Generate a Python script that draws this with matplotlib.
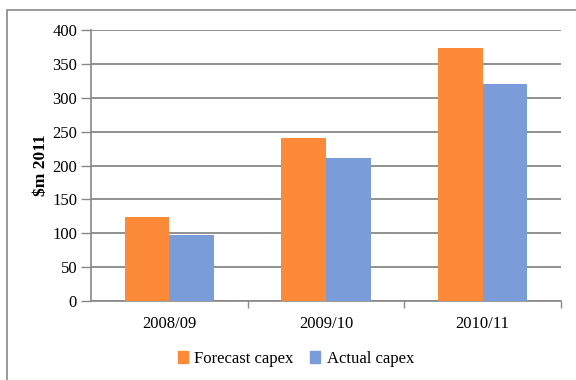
import matplotlib
matplotlib.use("Agg")
import matplotlib.pyplot as plt
import numpy as np
from matplotlib.patches import Rectangle, Patch

categories = ["2008/09", "2009/10", "2010/11"]
forecast = [124, 240, 373]
actual = [97, 211, 321]
yticks = [0, 50, 100, 150, 200, 250, 300, 350, 400]

plt.rcParams['font.family'] = ['Liberation Serif', 'DejaVu Serif']

fig = plt.figure(figsize=(5.76, 3.80), dpi=100)
ax = fig.add_axes([91/576, 1-301/380, (561-91)/576, (301-30)/380])

c_or = '#FD8A38'
c_bl = '#7A9CD9'
grid_c = '#888888'

x = np.arange(len(categories))
w = 0.285
ax.bar(x - w/2, forecast, w, color=c_or, zorder=3)
ax.bar(x + w/2, actual, w, color=c_bl, zorder=3)

ax.set_xlim(-0.5, 2.5)
ax.set_ylim(0, 400)
ax.set_yticks(yticks)
ax.set_yticklabels([str(v) for v in yticks], fontsize=12)
ax.yaxis.grid(True, color=grid_c, linewidth=1.3, zorder=0)
ax.set_axisbelow(True)

ax.set_xticks(x)
ax.set_xticklabels(categories, fontsize=12)
ax.tick_params(axis='x', length=0, pad=11)
ax.set_xticks([0.5, 1.5, 2.5], minor=True)
ax.tick_params(axis='x', which='minor', length=5, color=grid_c, width=1)
ax.tick_params(axis='y', length=7, color=grid_c, width=1, pad=3)

for s in ['top', 'right']:
    ax.spines[s].set_visible(False)
for s in ['left', 'bottom']:
    ax.spines[s].set_color(grid_c)
    ax.spines[s].set_linewidth(1.2)

ax.set_ylabel("$m 2011", fontsize=12.5, fontweight='bold')
ax.yaxis.set_label_coords(-0.09, 0.5)

handles = [Patch(color=c_or, label="Forecast capex"), Patch(color=c_bl, label="Actual capex")]
fig.legend(handles=handles, loc='center', bbox_to_anchor=(296/576, 1-359/380), ncol=2,
           frameon=False, fontsize=12, handlelength=0.6, handleheight=0.75,
           handletextpad=0.4, columnspacing=1.0)

fig.patches.append(Rectangle((7/576, -0.1), 1.2, 1 - 10/380 + 0.1, transform=fig.transFigure,
                             fill=False, edgecolor=grid_c, linewidth=1.2))

fig.savefig("out.png", dpi=100)
